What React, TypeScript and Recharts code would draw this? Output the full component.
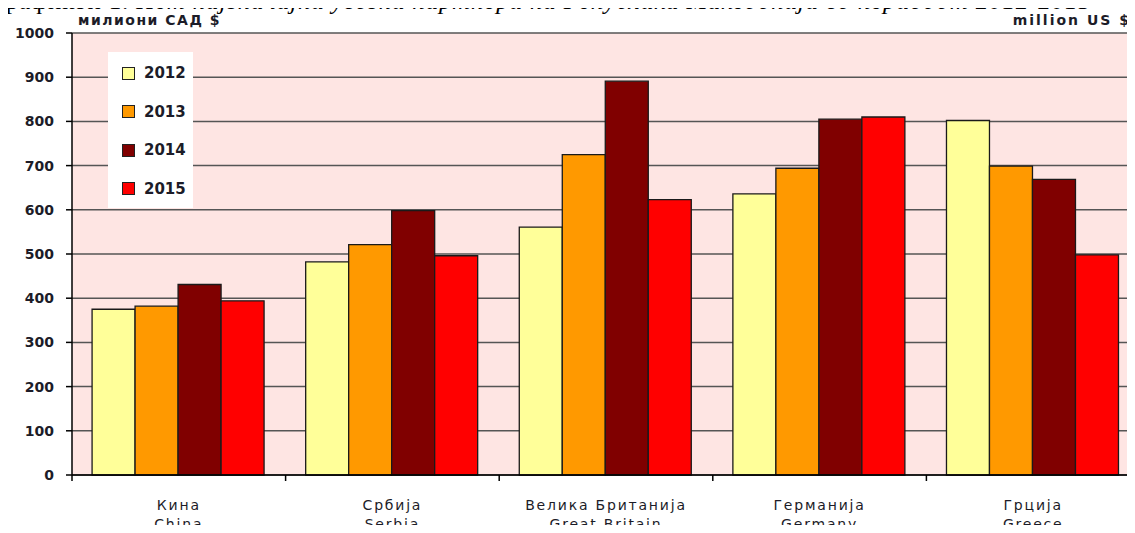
import React from "react";
import { Bar, BarChart, CartesianGrid, XAxis, YAxis } from "recharts";

const countriesMk = ["Кина", "Србија", "Велика Британија", "Германија", "Грција"];
const countriesEn = ["China", "Serbia", "Great Britain", "Germany", "Greece"];
const years = ["2012", "2013", "2014", "2015"];
const imports2012 = [375, 482, 561, 636, 802];
const imports2013 = [382, 521, 725, 694, 699];
const imports2014 = [431, 598, 891, 805, 669];
const imports2015 = [394, 496, 623, 810, 498];
const yTicks = [0, 100, 200, 300, 400, 500, 600, 700, 800, 900, 1000];
const yearColors = ["#ffff99", "#ff9900", "#800000", "#ff0000"];

const data = countriesMk.map((mk, i) => ({
  mk,
  en: countriesEn[i],
  y2012: imports2012[i],
  y2013: imports2013[i],
  y2014: imports2014[i],
  y2015: imports2015[i]
}));

const seriesKeys = ["y2012", "y2013", "y2014", "y2015"];

const textColor = "#1c1c28";

function CountryTick(props: any) {
  const { x, y, payload, width, visibleTicksCount } = props;
  const half = payload.offset || width / visibleTicksCount / 2;
  const row = data[payload.index] || data.find((d) => d.mk === payload.value);
  return (
    <g>
      <line x1={x - half} x2={x - half} y1={y} y2={y + 6} stroke="#000" strokeWidth={1.5} />
      <text x={x} y={y + 35} textAnchor="middle" fontSize={14} letterSpacing={1.8} fill={textColor} fontFamily="DejaVu Sans">
        {payload.value}
      </text>
      <text x={x} y={y + 54} textAnchor="middle" fontSize={14} letterSpacing={1.8} fill={textColor} fontFamily="DejaVu Sans">
        {row ? row.en : ""}
      </text>
    </g>
  );
}

export default function App() {
  return (
    <div
      style={{
        position: "relative",
        width: 1135,
        height: 533,
        margin: -8,
        overflow: "hidden",
        background: "#fff",
        fontFamily: "DejaVu Sans"
      }}
    >
      <div
        style={{
          position: "absolute",
          left: -8,
          top: -13,
          fontFamily: "Liberation Serif",
          fontSize: 25,
          lineHeight: "28px",
          letterSpacing: 0.85,
          whiteSpace: "nowrap",
          color: "#000"
        }}
      >
        Графикон 1. <i>Пет најзначајни увозни партнери на Република Македонија во периодот 2012-2015</i>
      </div>
      <div
        style={{
          position: "absolute",
          left: 78,
          top: 12,
          fontSize: 14,
          lineHeight: "16px",
          fontWeight: "bold",
          letterSpacing: 1.5,
          color: textColor
        }}
      >
        милиони САД $
      </div>
      <div
        style={{
          position: "absolute",
          right: 4,
          top: 12,
          fontSize: 14,
          lineHeight: "16px",
          fontWeight: "bold",
          letterSpacing: 2,
          color: textColor
        }}
      >
        million US $
      </div>
      <BarChart
        width={1140}
        height={533}
        data={data}
        margin={{ top: 33, right: 0, bottom: 0, left: 0 }}
        barCategoryGap="9.4%"
        barGap={0}
      >
        <CartesianGrid vertical={false} stroke="#555" strokeWidth={1.5} fill="#fee5e3" fillOpacity={1} />
        <YAxis
          width={72}
          domain={[0, 1000]}
          ticks={yTicks}
          interval={0}
          axisLine={{ stroke: "#000", strokeWidth: 1.5 }}
          tickLine={{ stroke: "#000", strokeWidth: 1.5 }}
          tickSize={6}
          tickMargin={12}
          tick={{ fill: textColor, fontSize: 14, fontWeight: "bold", fontFamily: "DejaVu Sans" }}
        />
        <XAxis
          dataKey="mk"
          height={58}
          interval={0}
          axisLine={{ stroke: "#000", strokeWidth: 1.5 }}
          tickLine={false}
          tickSize={0}
          tickMargin={0}
          tick={<CountryTick />}
        />
        {seriesKeys.map((key, i) => (
          <Bar
            key={key}
            dataKey={key}
            name={years[i]}
            fill={yearColors[i]}
            stroke="#1a1a1a"
            strokeWidth={1.3}
            isAnimationActive={false}
          />
        ))}
      </BarChart>
      <div
        style={{
          position: "absolute",
          left: 108,
          top: 52,
          width: 85,
          height: 156,
          background: "#fff"
        }}
      >
        {years.map((yr, i) => (
          <div
            key={yr}
            style={{
              position: "absolute",
              left: 14,
              top: 12 + i * 38.5,
              height: 18,
              display: "flex",
              alignItems: "center",
              fontSize: 15,
              fontWeight: "bold",
              color: textColor
            }}
          >
            <span
              style={{
                display: "inline-block",
                width: 11,
                height: 11,
                background: yearColors[i],
                border: "1px solid #222",
                marginRight: 9
              }}
            />
            {yr}
          </div>
        ))}
      </div>
    </div>
  );
}
